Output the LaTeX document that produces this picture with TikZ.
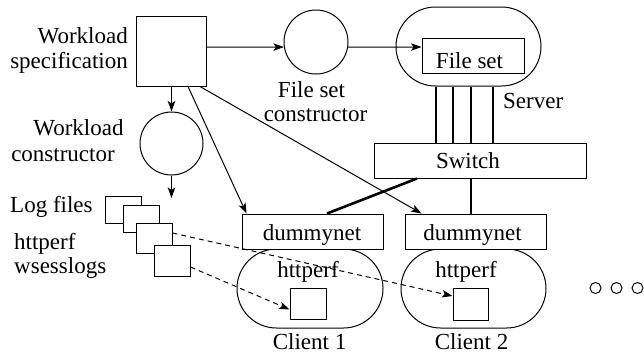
\documentclass[tikz,border=0pt]{standalone}
\usepackage{fontspec}
\setmainfont{Liberation Serif}
\newfontfamily\diagfont{Liberation Serif}
\usetikzlibrary{arrows.meta}
\tikzset{
  lbl/.style={font=\diagfont\fontsize{23}{25}\selectfont, inner sep=0pt},
  boxnode/.style={draw, line width=1pt, fill=white, inner sep=0pt},
  circnode/.style={draw, circle, line width=1pt, inner sep=0pt},
  pill/.style={draw, line width=1pt, rounded corners=39.5pt, inner sep=0pt, minimum height=79pt},
  link/.style={line width=1pt, -{Stealth[length=10.5pt,width=7.5pt,inset=2.5pt]}},
  dlink/.style={link, dash pattern=on 5pt off 4pt},
  trunk/.style={line width=2.6pt},
  dotnode/.style={draw, circle, line width=1pt, minimum size=11pt, inner sep=0pt}
}
\begin{document}
\begin{tikzpicture}[x=1pt,y=-1pt]
\path[use as bounding box] (0,0) rectangle (644,354);

% generator side
\node[boxnode, minimum width=70pt, minimum height=70pt] (spec) at (171.5,51) {};
\node[lbl, anchor=base east] (specA) at (128,43) {Workload};
\node[lbl, anchor=base east] (specB) at (128,68) {specification};

\node[circnode, minimum size=64pt] (fsc) at (316,42) {};
\node[lbl, anchor=base] (fscA) at (311.5,97) {File set};
\node[lbl, anchor=base] (fscB) at (315.5,121) {constructor};

\node[circnode, minimum size=63pt] (wc) at (171.5,143.5) {};
\node[lbl, anchor=base] (wcA) at (78.5,135) {Workload};
\node[lbl, anchor=base] (wcB) at (63,161) {constructor};
\coordinate (wcend) at (171.5,198);

% log files
\node[boxnode, minimum width=36pt, minimum height=27pt] (log1) at (123.5,209.5) {};
\node[boxnode, minimum width=36pt, minimum height=27pt] (log2) at (141,218.5) {};
\node[boxnode, minimum width=36pt, minimum height=30pt] (log3) at (154,238) {};
\node[boxnode, minimum width=36pt, minimum height=31pt] (log4) at (172,260.5) {};
\node[lbl, anchor=base west] (logA) at (10,212) {Log files};
\node[lbl, anchor=base west] (logB) at (14,249) {httperf};
\node[lbl, anchor=base west] (logC) at (14,273) {wsesslogs};

% server
\node[pill, minimum width=145pt] (server) at (468.5,46.5) {};
\node[boxnode, minimum width=102pt, minimum height=35pt] (fs) at (473,55.5) {};
\node[lbl, anchor=base] (fsA) at (469.5,68) {File set};
\node[lbl, anchor=base west] (srvA) at (503,108) {Server};

% switch
\node[boxnode, minimum width=212pt, minimum height=35pt] (sw) at (480,160.5) {};
\node[lbl, anchor=base] (swA) at (468,168) {Switch};

% clients
\node[pill, minimum width=146pt] (c1) at (310,288.5) {};
\node[pill, minimum width=145pt] (c2) at (473.5,288.5) {};
\node[boxnode, minimum width=141pt, minimum height=35pt] (dn1) at (312.5,231.5) {};
\node[boxnode, minimum width=141pt, minimum height=35pt] (dn2) at (475.5,231.5) {};
\node[lbl, anchor=base] (dn1A) at (312,240) {dummynet};
\node[lbl, anchor=base] (dn2A) at (472.5,240) {dummynet};
\node[lbl, anchor=base] (c1A) at (308,277) {httperf};
\node[lbl, anchor=base] (c2A) at (466,277) {httperf};
\node[boxnode, minimum width=36pt, minimum height=31pt] (b1) at (308,304) {};
\node[boxnode, minimum width=35pt, minimum height=32pt] (b2) at (470.5,304) {};
\node[lbl, anchor=base] (c1B) at (309.5,349) {Client 1};
\node[lbl, anchor=base] (c2B) at (471.5,349) {Client 2};

% more clients
\node[dotnode] (dotA) at (595.5,288) {};
\node[dotnode] (dotB) at (616.5,288) {};
\node[dotnode] (dotC) at (637.5,288) {};

% flows
\draw[link] ([yshift=4pt]spec.east) -- (fsc.189);
\draw[link] (fsc.-9) -- ([yshift=8.5pt]fs.west);
\draw[link] (spec.south) -- (wc.north);
\draw[link] (wc.south) -- (wcend);
\draw[link] ([xshift=16.5pt]spec.south) -- ([xshift=5pt]dn1.north west);
\draw[link] ([xshift=28.5pt]spec.south) -- ([xshift=17pt]dn2.north west);

% network links
\foreach \dx in {-32.5,-15.5,2.5,24.5}
  \draw[trunk] ([xshift=\dx pt]server.south) -- ([xshift=\dx pt]server.south |- sw.north);
\draw[trunk] ([xshift=-63pt]sw.south) -- ([xshift=14.5pt]dn1.north);
\draw[trunk] ([xshift=-9pt]sw.south) -- ([xshift=-9pt]sw.south |- dn2.north);

% logs handed to the clients
\draw[dlink] ([yshift=5pt]log3.east) -- ([yshift=8pt]b2.west);
\draw[dlink] ([yshift=-6.5pt]log4.east) -- ([yshift=-5.5pt]b1.west);
\end{tikzpicture}
\end{document}
